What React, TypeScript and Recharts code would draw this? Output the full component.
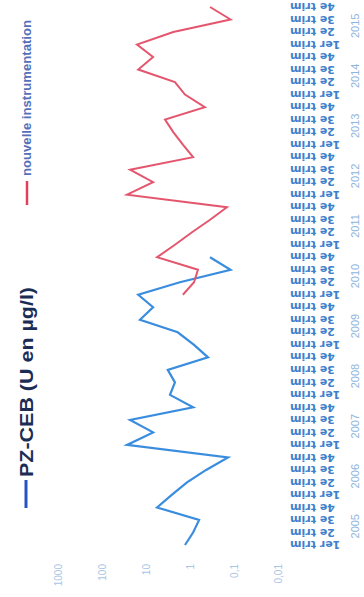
import React from 'react';
import { LineChart, Line, XAxis, YAxis } from 'recharts';

// quarterly samples, 2005 → 2015
const years = ['2005', '2006', '2007', '2008', '2009', '2010', '2011', '2012', '2013', '2014', '2015'];
const quarters = ['1er trim', '2e trim', '3e trim', '4e trim'];

// PZ-CEB, U in µg/l, 2005 Q1 → 2010 Q4
const pzCeb = [
  1.3, 0.85, 0.62, 5.6, 2.6, 1.17, 0.43, 0.137, 27, 6.9, 23, 0.85,
  2.85, 2.2, 3.2, 0.39, 0.81, 1.9, 13.7, 6.9, 15, 1.7, 0.12, 0.35,
];
// nouvelle instrumentation, 2010 Q1 → 2015 Q4
const nouvelle = [
  1.45, 0.81, 0.66, 5.6, 2.2, 0.9, 0.35, 0.145, 27, 6.9, 23, 0.85,
  1.45, 2.4, 3.7, 0.46, 1.3, 2.2, 15, 6.9, 16, 2.4, 0.12, 0.35,
];
const nouvelleStart = 20;
const yTicks = [0.01, 0.1, 1, 10, 100, 1000];

const data = years.flatMap((year, yi) =>
  quarters.map((label, qi) => {
    const i = yi * 4 + qi;
    return {
      year,
      label,
      pz: i < pzCeb.length ? pzCeb[i] : null,
      nouvelle: i >= nouvelleStart ? nouvelle[i - nouvelleStart] : null,
    };
  })
);

const fmt = (v: number) => String(v).replace('.', ',');

function QuarterTick(props: any) {
  const { x, y, payload, index } = props;
  const i = payload?.index ?? index;
  const ty = y + 4;
  return (
    <g>
      <text
        x={x}
        y={ty}
        transform={`rotate(-90, ${x}, ${ty})`}
        textAnchor="end"
        dy="0.35em"
        fontSize={11}
        fontWeight="bold"
        fontFamily="'DejaVu Sans', sans-serif"
        fill="#3f7fcb"
      >
        {payload.value}
      </text>
      {i % 4 === 1 && (
        <text
          x={x + 6.25}
          y={y + 73}
          textAnchor="middle"
          fontSize={11}
          fontFamily="'Liberation Sans', sans-serif"
          fill="#8fb5dc"
        >
          {data[i].year}
        </text>
      )}
    </g>
  );
}

export default function App() {
  return (
    <div style={{ position: 'absolute', left: 0, top: 0, width: 364, height: 597, overflow: 'hidden', background: '#fff' }}>
      <div
        style={{
          position: 'absolute',
          left: 0,
          top: 0,
          width: 597,
          height: 364,
          transformOrigin: '0 0',
          transform: 'translate(0px, 597px) rotate(-90deg)',
        }}
      >
        <LineChart width={597} height={364} data={data} margin={{ top: 58, right: 1, left: 0, bottom: 0 }}>
          <XAxis
            dataKey="label"
            interval={0}
            height={86}
            axisLine={false}
            tickLine={false}
            padding={{ left: 6, right: 6 }}
            tick={<QuarterTick />}
          />
          <YAxis
            scale="log"
            domain={[0.01, 1000]}
            ticks={yTicks}
            tickFormatter={fmt}
            width={46}
            tickMargin={7}
            axisLine={false}
            tickLine={false}
            tick={{ fontSize: 10, fill: '#a9c6e6', fontFamily: "'Liberation Sans', sans-serif" }}
            allowDataOverflow
          />
          <Line type="linear" dataKey="pz" stroke="#3a8dde" strokeWidth={2.2} dot={false} isAnimationActive={false} />
          <Line type="linear" dataKey="nouvelle" stroke="#e4566e" strokeWidth={2} dot={false} isAnimationActive={false} />
        </LineChart>
        <svg width={597} height={50} style={{ position: 'absolute', left: 0, top: 0, pointerEvents: 'none' }}>
          <line x1={89} x2={117} y1={26} y2={26} stroke="#2553c4" strokeWidth={3} />
          <text x={120} y={26} dy="0.35em" fontSize={19} fontWeight="bold" fontFamily="'Liberation Sans', sans-serif" fill="#1c2d55" textLength={190} lengthAdjust="spacingAndGlyphs">
            PZ-CEB (U en µg/l)
          </text>
          <line x1={392} x2={416} y1={27} y2={27} stroke="#e0405a" strokeWidth={2.5} />
          <text x={421} y={27} dy="0.35em" fontSize={12} fontWeight="bold" fontFamily="'Liberation Sans', sans-serif" fill="#5470b8" textLength={156} lengthAdjust="spacingAndGlyphs">
            nouvelle instrumentation
          </text>
        </svg>
      </div>
    </div>
  );
}
